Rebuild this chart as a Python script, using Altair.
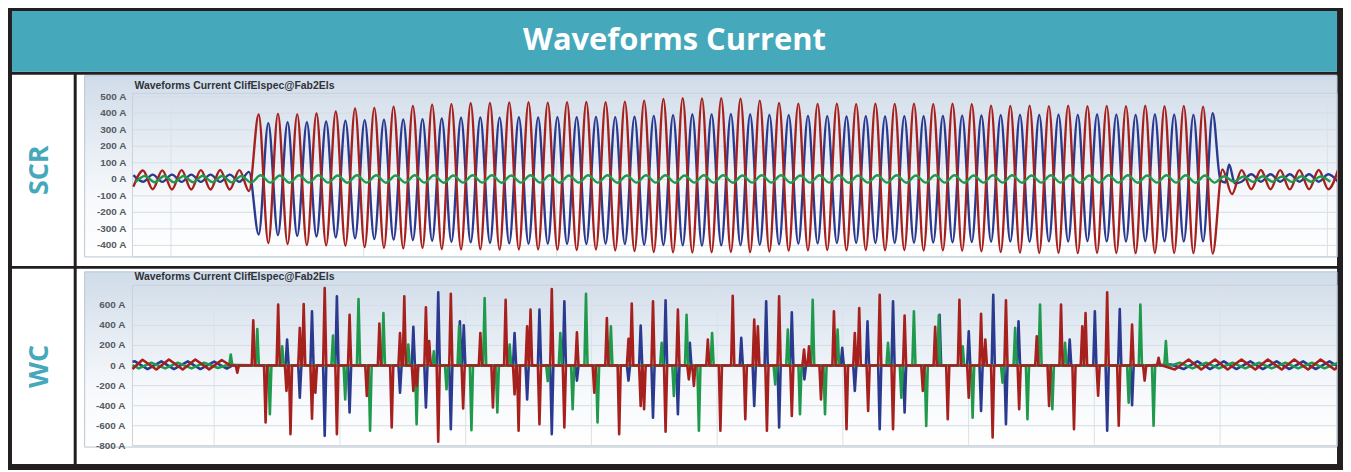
import altair as alt
import pandas as pd

# ---------------- text ----------------
TITLE = "Waveforms Current"
PANEL_TITLE = "Waveforms Current ClifElspec@Fab2Els"
ROW_LABELS = ["SCR", "WC"]

# ---------------- SCR panel (time ms, current A) ----------------
scr_y_ticks = [500, 400, 300, 200, 100, 0, -100, -200, -300, -400]
scr_x_grid = [40, 240, 440, 640, 840, 1040, 1240]

# red: extremes every 10 ms
scr_red_pre = [-45, 53, -60, 54, -62, 55, -62, 55, -62, 56, -62, 55, -72]          # t = 1, 11, ... 121
scr_red_peaks = [392, 396, 393, 398, 410, 428, 432, 440, 444, 452,
                 455, 460, 462, 465, 466, 464, 466, 468, 466, 470,
                 476, 486, 490, 489, 491, 488, 476, 462, 458, 456,
                 458, 455, 457, 456, 458, 455, 457, 454, 446, 444,
                 446, 443, 445, 442, 444, 443, 445, 442, 444, 440]                # t = 131 + 20k
scr_red_troughs = [-386, -392, -398, -400, -402, -410, -415, -418, -415, -422,
                   -425, -424, -426, -425, -424, -426, -428, -425, -430, -435,
                   -440, -442, -444, -442, -440, -441, -438, -432, -430, -428,
                   -430, -428, -430, -429, -431, -430, -432, -436, -440, -444,
                   -446, -445, -447, -445, -446, -447, -445, -446, -447, -450]    # t = 141 + 20k
scr_red_post = [60, -90, 55, -60, 56, -60, 55, -61, 55, -60, 56, -60, 55]          # t = 1131, 1141, ...

# blue
scr_blue_pre = [25, -15, 28, -16, 28, -16, 28, -16, 28, -16, 28, -15, 45]          # t = 1, 11, ... 121
scr_blue_troughs = [-334, -338, -342, -346, -352, -358, -362, -365, -368, -372,
                    -378, -382, -385, -388, -390, -390, -391, -392, -390, -392,
                    -396, -398, -400, -401, -400, -399, -397, -394, -390, -388,
                    -386, -385, -386, -385, -384, -383, -382, -380, -378, -377,
                    -378, -376, -377, -375, -376, -377, -375, -376, -377, -376]   # t = 131 + 20k
scr_blue_peaks = [340, 345, 345, 350, 355, 358, 360, 362, 364, 368,
                  372, 374, 373, 375, 374, 376, 375, 377, 376, 378,
                  384, 388, 392, 393, 394, 392, 390, 388, 384, 382,
                  380, 381, 380, 382, 381, 383, 385, 386, 388, 390,
                  389, 391, 390, 392, 391, 390, 392, 391, 390, 400]               # t = 141 + 20k
scr_blue_post_t = [1129, 1134, 1138, 1144, 1151, 1161, 1171, 1181, 1191, 1201, 1211, 1221, 1231, 1241, 1251]
scr_blue_post_v = [-5, -20, 90, -25, -15, 30, -15, 30, -15, 30, -15, 30, -15, 30, -15]

# green: extremes every 10 ms from t = 3
scr_green_pre = [-18, 20, -18, 20, -19, 20, -18, 21, -18, 20, -19, 20, -20]        # t = 3 ... 123
scr_green_big = [24, -20, 23, -21, 24, -20, 24, -20, 23, -21, 24, -20, 24, -21, 23, -20, 24, -20, 24, -21,
                 23, -20, 24, -20, 24, -21, 23, -20, 24, -20, 24, -21, 23, -20, 24, -20, 24, -21, 23, -20,
                 24, -20, 24, -21, 23, -20, 24, -20, 24, -21, 23, -20, 24, -20, 24, -21, 23, -20, 24, -20,
                 24, -21, 23, -20, 24, -20, 24, -21, 23, -20, 24, -20, 24, -21, 23, -20, 24, -20, 24, -21,
                 23, -20, 24, -20, 24, -21, 23, -20, 24, -20, 24, -21, 23, -20, 24, -20, 24, -21, 23, -20]  # t = 133 ... 1123
scr_green_post = [18, -15, 17, -16, 18, -15, 17, -16, 18, -15, 17, -16]           # t = 1133 ... 1243

# ---------------- WC panel ----------------
wc_y_ticks = [600, 400, 200, 0, -200, -400, -600, -800]
wc_y_grid = [800, 600, 400, 200, 0, -200, -400, -600, -800]
wc_x_grid = [65, 165, 265, 365, 465, 565, 665, 765, 865]

wc_red_pre_t = [0, 8, 19, 29, 40, 50, 61, 71, 78]
wc_red_pre_v = [-35, 58, -40, 60, -40, 60, -38, 55, 0]
wc_blue_pre_t = [0, 2, 12, 23, 33, 44, 54, 65, 75, 80]
wc_blue_pre_v = [38, 42, -35, 42, -35, 42, -35, 40, -30, 5]
wc_green_pre_t = [0, 5, 15, 26, 36, 47, 57, 68, 74]
wc_green_pre_v = [5, -28, 28, -28, 28, -28, 28, -25, 0]

wc_red_spike_t = [83.4, 96.1, 105.9, 115.9, 122.5, 125.7, 133.1, 136.2, 142.8, 145.5,
                  152.9, 162.6, 172.7, 186.4, 196.4, 206.2, 212.8, 216.2, 223.4, 226.0,
                  233.4, 236.0, 243.2, 253.2, 263.0,
                  276.7, 286.7, 296.8, 303.9, 307.1, 313.9, 316.6, 323.7, 333.5, 343.5,
                  353.5, 367.3, 377.3, 387.1, 394.5, 397.1, 404.2, 406.9, 414.0, 424.0,
                  433.8, 442.5, 446.5, 457.6,
                  467.6, 477.4, 487.4, 494.5, 497.4, 504.6, 514.3, 524.4, 534.1, 538.1,
                  547.6, 557.9, 567.9, 574.5, 578.0, 585.1, 594.3, 604.9, 614.1, 628.6,
                  638.4, 648.4, 657.7,
                  665.1, 674.9, 678.3, 684.1, 694.7, 705.2, 719.2, 729.0, 738.5, 748.8,
                  755.4, 758.0, 768.0, 775.2, 784.4, 795.0, 805.0, 816.1]
wc_red_spike_v = [-72, 451, -568, 607, -254, -684, 375, 613, -529, -270,
                  772, -684, 507, -304, 418, -618, 325, 690, -254, -204,
                  580, 243, -760, 716, -429,
                  325, -419, 656, -287, -651, 392, 557, -585, 762, -618,
                  332, -270, 474, -684, 266, 617, -403, -436, 640, -661,
                  557, -138, -204, 259,
                  -651, 696, -535, 458, 392, -651, 690, -502, 160, 193,
                  -337, 541, -635, 325, 574, -452, 706, -635, 498, -254,
                  385, -535, 656,
                  -320, 517, 259, -717, 650, -436, 292, -403, 607, -635,
                  392, 524, -300, 729, -601, 408, -150, 77]

wc_blue_spike_t = [123.0, 133.1, 142.8, 152.9, 162.6, 172.7, 212.8, 223.4, 233.4, 243.2, 253.2, 260.4, 263.5,
                   303.9, 313.9, 323.7, 333.5, 343.5, 353.5, 394.5, 404.2, 414.0, 424.0, 433.8, 443.3,
                   484.2, 494.5, 504.0, 514.3, 524.4, 534.4, 564.5, 574.5, 584.6, 594.3, 604.9, 614.1, 641.9,
                   665.1, 674.9, 684.6, 694.7, 704.7, 745.4, 765.4, 775.2, 785.2, 795.0]
wc_blue_spike_v = [259, -320, 541, -701, 690, -469, -270, 385, -419, 729, -635, 441, 400,
                   325, -337, 557, -684, 640, -150, -150, 398, -519, 650, -486, 226,
                   276, -403, 640, -618, 531, -138, 176, -254, 441, -635, 640, -469, 507,
                   342, -452, 706, -585, 441, 259, 541, -651, 564, -396]

wc_green_spike_t = [78.2, 99.3, 109.3, 119.1, 159.5, 169.2, 179.8, 189.0, 199.6, 219.4, 226.0, 239.7, 249.8, 259.8, 269.6,
                    280.1, 290.2, 300.0, 330.3, 340.3, 350.1, 360.7, 369.9, 380.5, 420.9, 430.6, 440.7, 450.5, 461.0,
                    511.2, 521.2, 530.9, 541.0, 550.8, 560.8, 600.9, 611.5, 621.5, 631.3, 641.3,
                    660.3, 668.2, 692.0, 702.0, 711.8, 721.8, 731.6, 741.7, 792.3, 801.6, 812.1, 821.9]
wc_green_spike_v = [110, 365, -486, 193, 299, -337, 663, -651, 524, 210, -585, 143, -237, 392, -645,
                    673, -469, 210, -155, 325, -436, 716, -568, 392, 226, -304, 507, -651, 325,
                    -188, 359, -486, 656, -486, 359, 226, -320, 541, -602, 498,
                    193, -519, -171, 375, -535, 607, -436, 226, -370, 607, -601, 243]

wc_red_post_t = [819, 829, 840, 850, 861, 871, 882, 893, 903, 914, 924, 935, 945, 956, 966]
wc_red_post_v = [0, -40, 60, -40, 60, -40, 60, -40, 60, -40, 60, -40, 60, -40, 60]
wc_blue_post_t = [805, 826, 836, 847, 857, 868, 878, 889, 899, 910, 920, 931, 941, 952, 962]
wc_blue_post_v = [0, 10, -35, 42, -35, 42, -35, 42, -35, 42, -35, 42, -35, 42, -35]
wc_green_post_t = [826, 833, 843, 854, 864, 875, 885, 896, 906, 917, 927, 938, 948, 959]
wc_green_post_v = [0, 28, -28, 28, -28, 28, -28, 28, -28, 28, -28, 28, -28, 28]

# ---------------- style ----------------
TEAL = "#45a8bb"
DARK = "#231f20"
RED = "#a6211d"
BLUE = "#2b3a8f"
GREEN = "#1f9a4c"
W_ALL = 1331
LABEL_W = 62
PANEL_W = 1266
TITLE_H = 61
ROW1_H = 192
ROW2_H = 196
PLOT_X0 = 56


def regular(t0, step, values):
    return [(t0 + step * i, v) for i, v in enumerate(values)]


def interleave(t0, period, first, second):
    pts = []
    for k, (a, b) in enumerate(zip(first, second)):
        pts.append((t0 + period * k, a))
        pts.append((t0 + period * k + period / 2, b))
    return pts


def frame(pts):
    pts = sorted(pts)
    return pd.DataFrame({"t": [p[0] for p in pts], "v": [p[1] for p in pts]})


def spikes(pre_t, pre_v, sp_t, sp_v, post_t, post_v, hw=1.25):
    pts = list(zip(pre_t, pre_v))
    for t, v in zip(sp_t, sp_v):
        pts += [(t - hw, 0), (t, v), (t + hw, 0)]
    pts += list(zip(post_t, post_v))
    return frame(pts)


scr_red = frame(regular(1, 10, scr_red_pre) + interleave(131, 20, scr_red_peaks, scr_red_troughs)
                + regular(1131, 10, scr_red_post))
scr_blue = frame(regular(1, 10, scr_blue_pre) + interleave(131, 20, scr_blue_troughs, scr_blue_peaks)
                 + list(zip(scr_blue_post_t, scr_blue_post_v)))
scr_green = frame(regular(3, 10, scr_green_pre) + regular(133, 10, scr_green_big)
                  + regular(1133, 10, scr_green_post))

wc_red = spikes(wc_red_pre_t, wc_red_pre_v, wc_red_spike_t, wc_red_spike_v, wc_red_post_t, wc_red_post_v)
wc_blue = spikes(wc_blue_pre_t, wc_blue_pre_v, wc_blue_spike_t, wc_blue_spike_v, wc_blue_post_t, wc_blue_post_v)
wc_green = spikes(wc_green_pre_t, wc_green_pre_v, wc_green_spike_t, wc_green_spike_v, wc_green_post_t, wc_green_post_v)


def one(txt):
    return pd.DataFrame({"txt": [txt]})


GRAD = alt.LinearGradient(
    gradient="linear", x1=0, x2=0, y1=0, y2=1,
    stops=[alt.GradientStop(color="#d0dce9", offset=0),
           alt.GradientStop(color="#e4ebf3", offset=0.35),
           alt.GradientStop(color="#f6f8fb", offset=0.65),
           alt.GradientStop(color="#ffffff", offset=1)])


def panel(series, interp, width, xdom, xgrid, ygrid, yticks, ydom, yrange, box, title_y, label_x, h):
    xs = alt.Scale(domain=xdom, range=[PLOT_X0, PANEL_W])
    ys = alt.Scale(domain=ydom, range=yrange)
    layers = [
        alt.Chart(one("")).mark_rect(fill=GRAD, stroke="#b9c6d4", strokeWidth=1).encode(
            x=alt.value(8), x2=alt.value(PANEL_W), y=alt.value(box[0]), y2=alt.value(box[1])),
        alt.Chart(pd.DataFrame({"v": ygrid})).mark_rule(color="#d6dde5", strokeWidth=1).encode(
            y=alt.Y("v:Q", scale=ys, axis=None), x=alt.value(PLOT_X0), x2=alt.value(PANEL_W)),
        alt.Chart(pd.DataFrame({"t": xgrid})).mark_rule(color="#dbe1e8", strokeWidth=1).encode(
            x=alt.X("t:Q", scale=xs, axis=None), y=alt.value(yrange[1]), y2=alt.value(yrange[0])),
        alt.Chart(one("")).mark_rect(fillOpacity=0, stroke="#c9d2dc", strokeWidth=1).encode(
            x=alt.value(PLOT_X0), x2=alt.value(PANEL_W), y=alt.value(yrange[1]), y2=alt.value(yrange[0])),
    ]
    for df, col in series:
        layers.append(alt.Chart(df).mark_line(color=col, strokeWidth=width, clip=True, interpolate=interp,
                                              strokeJoin="round").encode(
            x=alt.X("t:Q", scale=xs, axis=None), y=alt.Y("v:Q", scale=ys, axis=None)))
    layers.append(alt.Chart(pd.DataFrame({"v": yticks, "label": [f"{v} A" for v in yticks]})).mark_text(
        align="right", baseline="middle", font="Liberation Sans", fontSize=10, fontWeight="bold", color="#555b63"
    ).encode(x=alt.value(label_x), y=alt.Y("v:Q", scale=ys, axis=None), text="label:N"))
    layers.append(alt.Chart(one(PANEL_TITLE)).mark_text(
        align="left", baseline="middle", font="Liberation Sans", fontSize=10.5, fontWeight="bold", color="#2e3238"
    ).encode(x=alt.value(58), y=alt.value(title_y), text="txt:N"))
    return alt.layer(*layers).properties(width=PANEL_W, height=h)


scr_panel = panel([(scr_blue, BLUE), (scr_red, RED), (scr_green, GREEN)], "monotone", 2.4,
                  [0, 1250], scr_x_grid, scr_y_ticks, scr_y_ticks, [-470, 520], [183.0, 18.7],
                  (1, 183), 11, 50, ROW1_H)
wc_panel = panel([(wc_blue, BLUE), (wc_green, GREEN), (wc_red, RED)], "linear", 2.6,
                 [0, 958], wc_x_grid, wc_y_grid, wc_y_ticks, [-800, 800], [177.7, 16.5],
                 (3, 179), 8.5, 49, ROW2_H)

title_chart = alt.layer(
    alt.Chart(one("")).mark_rect(color=TEAL).encode(
        x=alt.value(0), x2=alt.value(W_ALL), y=alt.value(0), y2=alt.value(TITLE_H)),
    alt.Chart(one(TITLE)).mark_text(color="white", font="Open Sans", fontSize=31, fontWeight="bold",
                                    baseline="middle", align="center").encode(
        x=alt.value(W_ALL / 2), y=alt.value(TITLE_H / 2), text="txt:N"),
).properties(width=W_ALL, height=TITLE_H)


def label_chart(txt, h):
    return alt.Chart(one(txt)).mark_text(color=TEAL, font="Open Sans", fontSize=27, fontWeight="bold",
                                         angle=270, align="center", baseline="middle").encode(
        x=alt.value(28), y=alt.value(h / 2), text="txt:N").properties(width=LABEL_W, height=h)


row1 = alt.hconcat(label_chart(ROW_LABELS[0], ROW1_H), scr_panel, spacing=3)
row2 = alt.hconcat(label_chart(ROW_LABELS[1], ROW2_H), wc_panel, spacing=3)

chart = alt.vconcat(title_chart, row1, row2, spacing=3).properties(
    padding={"left": 4, "top": 2, "right": 5, "bottom": 5}, background=DARK
).configure_view(strokeWidth=0, fill="white")

chart.save("out.html", embed_options={"renderer": "svg", "actions": False})
